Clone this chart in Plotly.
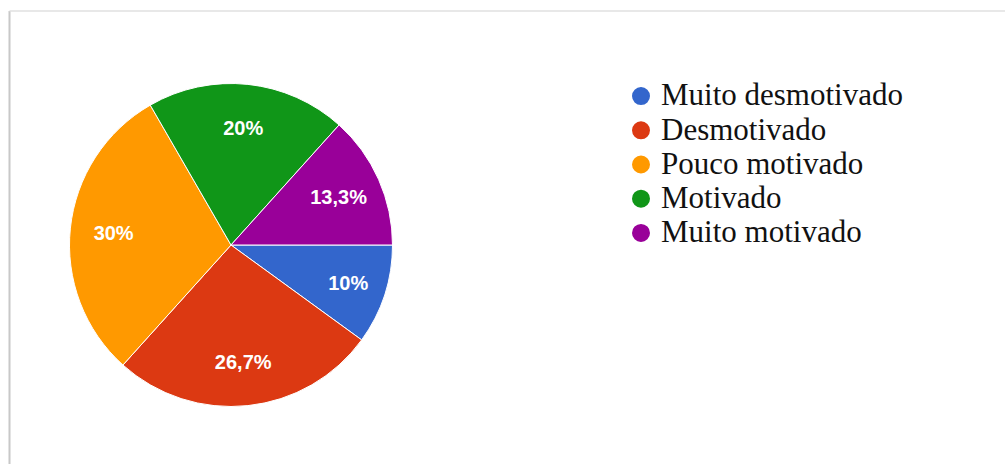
import plotly.graph_objects as go

# ---- data ----
categories = ["Muito desmotivado", "Desmotivado", "Pouco motivado", "Motivado", "Muito motivado"]
responses = [3, 8, 9, 6, 4]
colors = ["#3366CC", "#DC3912", "#FF9900", "#109618", "#990099"]

W, H = 1006, 464
cx, cy, r = 231, 245, 161.5
dom_x = [(cx - r) / W, (cx + r) / W]
dom_y = [(H - (cy + r)) / H, (H - (cy - r)) / H]

fig = go.Figure()

# full pie (slices)
fig.add_trace(go.Pie(
    labels=categories, values=responses, sort=False,
    direction="clockwise", rotation=90,
    marker=dict(colors=colors, line=dict(color="white", width=1)),
    textinfo="none", hoverinfo="label+percent",
    showlegend=False, domain=dict(x=dom_x, y=dom_y),
))

# transparent ring carrying the percentage labels (places them at ~3/4 radius)
fig.add_trace(go.Pie(
    labels=categories, values=responses, sort=False,
    direction="clockwise", rotation=90, hole=0.46,
    marker=dict(colors=["rgba(0,0,0,0)"] * len(categories), line=dict(width=0)),
    texttemplate="<b>%{percent}</b>", textposition="inside",
    insidetextorientation="horizontal",
    insidetextfont=dict(family="Liberation Sans, Arial, sans-serif", size=20, color="white"),
    hoverinfo="skip", showlegend=False, domain=dict(x=dom_x, y=dom_y),
))

# legend entries with round markers
for name, col in zip(categories, colors):
    fig.add_trace(go.Scatter(
        x=[None], y=[None], mode="markers",
        name='<span style="font-size:31px">' + name + "</span>",
        marker=dict(symbol="circle", size=16, color=col, line=dict(color=col, width=2)),
        showlegend=True,
    ))

fig.update_layout(
    width=W, height=H,
    margin=dict(l=0, r=0, t=0, b=0),
    paper_bgcolor="white", plot_bgcolor="white",
    separators=",.",
    xaxis=dict(visible=False), yaxis=dict(visible=False),
    legend=dict(
        x=621 / W, y=1 - 74 / H, xanchor="left", yanchor="top",
        font=dict(family="Liberation Serif, Times New Roman, serif", size=24, color="#111111"),
        bgcolor="rgba(0,0,0,0)", borderwidth=0, itemclick=False, itemdoubleclick=False,
    ),
    shapes=[
        dict(type="line", xref="paper", yref="paper",
             x0=9.5 / W, x1=9.5 / W, y0=1 - 11 / H, y1=-0.05,
             line=dict(color="#c8c8c8", width=2)),
        dict(type="line", xref="paper", yref="paper",
             x0=9.5 / W, x1=1005 / W, y0=1 - 11 / H, y1=1 - 11 / H,
             line=dict(color="#e0e0e0", width=1.5)),
    ],
)

fig.write_html("out.html")
